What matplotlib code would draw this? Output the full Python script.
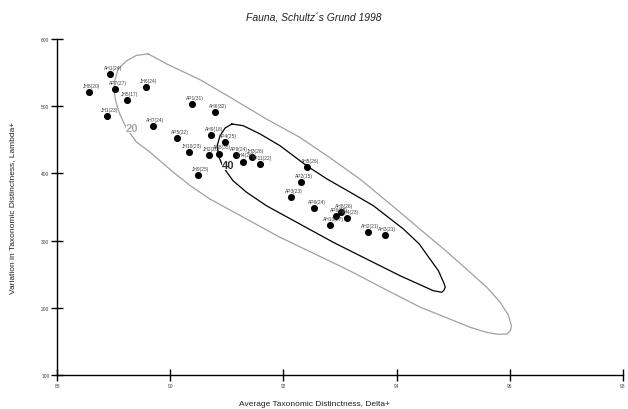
import numpy as np
import matplotlib
matplotlib.use('Agg')
import matplotlib.pyplot as plt

plt.rcParams['font.family'] = ['Liberation Sans', 'DejaVu Sans']

# samples: Delta+ , Lambda+ , label
delta = [88.94, 88.57, 89.02, 89.57, 89.24, 90.39, 90.80, 88.88, 89.69, 90.72,
         90.12, 90.97, 90.33, 90.69, 90.86, 91.16, 91.28, 91.45, 91.58, 90.49,
         92.42, 92.31, 92.13, 92.54, 93.02, 92.93, 93.12, 92.83, 93.49, 93.79]
lambda_ = [548, 521.6, 525.6, 528, 509, 502.8, 491.8, 485, 471, 457.6,
           452.7, 446.2, 432.3, 427.4, 429.5, 427.4, 417.5, 424, 413.5, 398,
           409, 386.7, 365, 348.5, 343, 336, 334, 323, 313, 307.9]
labels = ['AH1(24)', 'JH8(20)', 'AP7(27)', 'JH6(24)', 'JH5(17)', 'AP1(31)', 'AH6(32)',
          'JH1(23)', 'AH7(24)', 'AH9(18)', 'AP5(22)', 'AP4(25)', 'JH10(23)', 'JH2(20)',
          'AH8(35)', 'AP9(24)', 'JH4(20)', 'JH3(26)', 'AP11(22)', 'JH9(25)', 'AH5(26)',
          'AP2(15)', 'AP3(23)', 'AP8(24)', 'AH8(26)', 'AP6(25)', 'AH4(23)', 'AH10(27)',
          'AH2(21)', 'AH3(21)']

# probability contours
c20_x = [89.61, 89.94, 90.53, 91.11, 91.70, 92.29, 92.82, 93.35, 93.88, 94.41, 94.88, 95.30,
         95.60, 95.83, 95.97, 96.03, 96.01, 95.95, 95.80, 95.59, 95.30, 94.94, 94.41, 93.80,
         93.18, 92.56, 91.94, 91.32, 90.70, 90.35, 90.05, 89.64, 89.40, 89.22, 89.10, 89.03,
         89.01, 89.02, 89.08, 89.23, 89.40]
c20_y = [578, 562.8, 539.3, 510.7, 481.0, 453.7, 423.5, 391.7, 355.0, 317.3, 284.0, 252.8,
         230.0, 208.2, 190.0, 173.4, 166.0, 161.0, 160.5, 163.5, 171.0, 183.3, 201.2, 227.5,
         254.8, 280.0, 304.9, 333.5, 361.9, 382.0, 402.1, 431.8, 447.0, 468.0, 490.0, 510.0,
         525.6, 538.0, 555.4, 567.7, 575.5]
c40_x = [91.09, 91.29, 91.59, 91.94, 92.41, 92.77, 93.18, 93.59, 94.12, 94.40, 94.59, 94.74,
         94.83, 94.86, 94.84, 94.80, 94.65, 94.06, 93.47, 92.88, 92.29, 91.70, 91.35, 91.11,
         90.94, 90.85, 90.83, 90.88, 90.97]
c40_y = [473.5, 471.0, 458.6, 441.2, 411.5, 391.7, 372.0, 351.9, 317.3, 295.0, 272.6, 255.0,
         237.9, 231.0, 226.5, 223.1, 225.4, 247.8, 272.6, 297.5, 324.7, 351.9, 371.9, 389.1,
         409.1, 426.3, 441.2, 456.1, 467.6]

fig = plt.figure(figsize=(6.28, 4.10), dpi=100)
ax = fig.add_axes([0.0908, 0.0829, 0.9012, 0.8195])

ax.plot(c20_x + c20_x[:1], c20_y + c20_y[:1], color='#a0a0a0', lw=0.9, zorder=1)
ax.plot(c40_x + c40_x[:1], c40_y + c40_y[:1], color='black', lw=0.9, zorder=1)
ax.text(89.33, 468, '20', color='#a8a8a8', fontsize=8, fontweight='bold',
        ha='center', va='center', zorder=2, bbox=dict(fc='white', ec='none', pad=0.3))
ax.text(91.03, 412.5, '40', color='#303030', fontsize=8, fontweight='bold',
        ha='center', va='center', zorder=2, bbox=dict(fc='white', ec='none', pad=0.3))

ax.scatter(delta, lambda_, s=26, color='black', zorder=3, linewidths=0)
for x, y, t in zip(delta, lambda_, labels):
    ax.annotate(t, (x, y), xytext=(2, 3), textcoords='offset points',
                ha='center', va='bottom', fontsize=3.5, color='#404040', zorder=4)

ax.set_xlim(88, 98)
ax.set_ylim(100, 600)
ax.set_xticks([88, 90, 92, 94, 96, 98])
ax.set_yticks([100, 200, 300, 400, 500, 600])
ax.tick_params(direction='inout', length=9, width=1, labelsize=3.5, labelcolor='#404040', pad=1)
for s in ['top', 'right']:
    ax.spines[s].set_visible(False)
for s in ['left', 'bottom']:
    ax.spines[s].set_linewidth(1)

fig.text(0.5, 0.014, 'Average Taxonomic Distinctness, Delta+', ha='center', va='center',
         fontsize=6, color='#202020')
ax.set_ylabel('Variation in Taxonomic Distinctness, Lambda+', fontsize=6, color='#202020', labelpad=18)
fig.text(0.5, 0.955, 'Fauna, Schultz\u00b4s Grund 1998', ha='center', va='center',
         fontsize=7.5, style='italic', color='#202020')

plt.savefig('out.png', dpi=100)
